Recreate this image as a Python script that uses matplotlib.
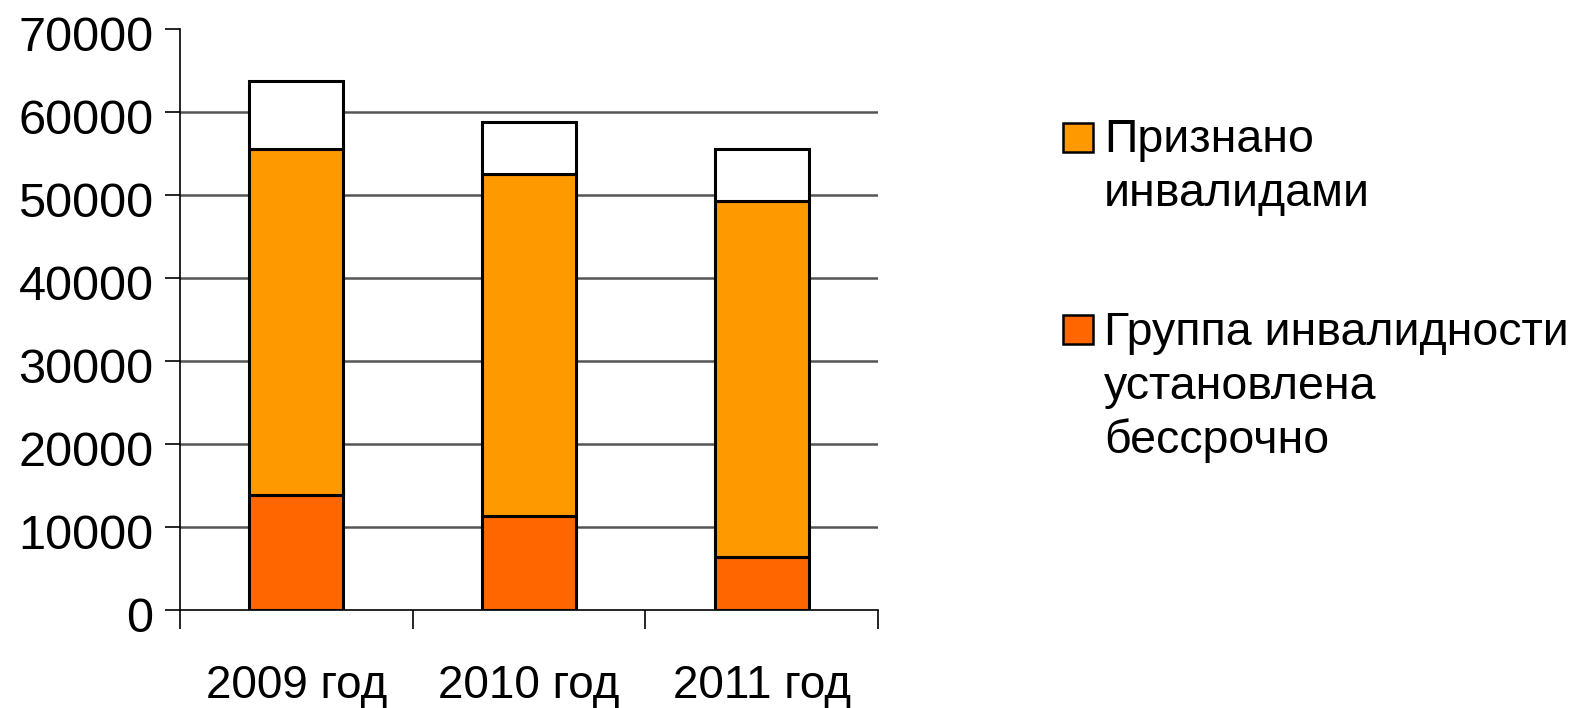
import matplotlib
matplotlib.use("Agg")
import matplotlib.pyplot as plt
from matplotlib.patches import Rectangle
from matplotlib.transforms import ScaledTranslation

plt.rcParams['font.family'] = ['Liberation Sans', 'DejaVu Sans']

# data (segment heights)
years = ['2009 год', '2010 год', '2011 год']
bessrochno = [13800, 11300, 6350]           # bottom, red-orange
priznano = [41800, 41250, 42950]            # middle, orange (top at 55600, 52550, 49300)
ostalnye = [8150, 6300, 6300]               # top, white (totals 63750, 58850, 55600)

legend_labels = ['Признано\nинвалидами', 'Группа инвалидности\nустановлена\nбессрочно']
c_red = '#FF6600'
c_orange = '#FF9900'

fig = plt.figure(figsize=(15.76, 7.08), dpi=100)
ax = fig.add_axes([180 / 1576, 98 / 708, 698 / 1576, 581 / 708])

x = list(range(len(years)))
w = 0.405
edge = dict(edgecolor='black', linewidth=2.2, zorder=3)
ax.bar(x, bessrochno, w, color=c_red, **edge)
bottom2 = bessrochno
ax.bar(x, priznano, w, bottom=bottom2, color=c_orange, **edge)
bottom3 = [a + b for a, b in zip(bessrochno, priznano)]
ax.bar(x, ostalnye, w, bottom=bottom3, color='white', **edge)

ax.set_xlim(-0.5, 2.5)
ax.set_ylim(0, 70000)
ax.set_yticks(range(0, 70001, 10000))
ax.tick_params(axis='y', labelsize=35, length=11, width=1.2, pad=8, direction='out')
# the original labels sit a few pixels below their gridlines
shift = ScaledTranslation(0, -3 / 72, fig.dpi_scale_trans)
for lab in ax.get_yticklabels():
    lab.set_transform(lab.get_transform() + shift)
for v in range(10000, 60001, 10000):
    ax.axhline(v, color='#555555', linewidth=1.8, zorder=1)

# category boundaries as ticks, labels centred on the bars
ax.set_xticks([-0.5, 0.5, 1.5, 2.5])
ax.set_xticklabels([])
ax.tick_params(axis='x', which='major', length=14, width=1.2, direction='out')
ax.set_xticks(x, minor=True)
ax.set_xticklabels(years, minor=True)
ax.tick_params(axis='x', which='minor', length=0, labelsize=33, pad=39)

for s in ['top', 'right']:
    ax.spines[s].set_visible(False)
for s in ['left', 'bottom']:
    ax.spines[s].set_linewidth(1.2)

# legend drawn by hand so the square sits beside the first line
items = [(c_orange, legend_labels[0], 123, 118), (c_red, legend_labels[1], 315, 311)]
for col, lab, ysq, ytxt in items:
    fig.add_artist(Rectangle((1063 / 1576, 1 - (ysq + 29) / 708), 30 / 1576, 29 / 708,
                             transform=fig.transFigure, facecolor=col,
                             edgecolor='black', linewidth=1.8))
    fig.text(1104 / 1576, 1 - ytxt / 708, lab, fontsize=33.5, va='top',
             ha='left', linespacing=1.28)

fig.savefig('out.png', dpi=100, facecolor='white')
